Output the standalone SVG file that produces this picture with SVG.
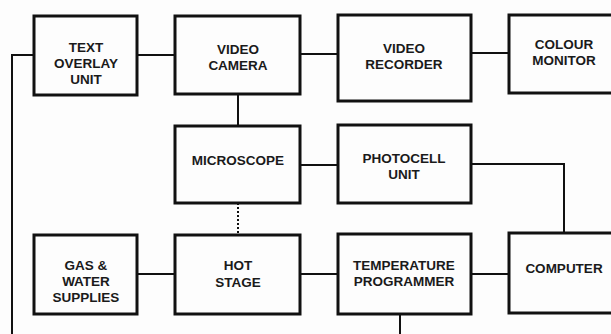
<svg xmlns="http://www.w3.org/2000/svg" width="611" height="334" viewBox="0 0 611 334">
<style>
.box{fill:#fdfdfd;stroke:#111;stroke-width:3}
.ln{fill:none;stroke:#111;stroke-width:2}
.dot{fill:none;stroke:#111;stroke-width:2;stroke-dasharray:2 2}
text{font-family:"Liberation Sans",Arial,sans-serif;font-weight:bold;font-size:13.5px;fill:#1a1a1a;text-anchor:middle}
</style>
<rect width="611" height="334" fill="#fdfdfd"/>
<g id="connectors">
<path class="ln" d="M137 55H175"/>
<path class="ln" d="M300 54H338"/>
<path class="ln" d="M471 53H509"/>
<path class="ln" d="M238 94V126"/>
<path class="ln" d="M300 165H338"/>
<path class="ln" d="M471 164H564V233"/>
<path class="dot" d="M238 203V235"/>
<path class="ln" d="M137 274H175"/>
<path class="ln" d="M300 274H338"/>
<path class="ln" d="M471 274H509"/>
<path class="ln" d="M400 314V334"/>
<path class="ln" d="M34 55H12V334"/>
</g>
<g id="text-overlay"><rect class="box" x="34" y="16" width="103" height="79"/><text x="86" y="52">TEXT</text><text x="86" y="68">OVERLAY</text><text x="86" y="84">UNIT</text></g>
<g id="video-camera"><rect class="box" x="175" y="16" width="125" height="78"/><text x="238" y="54">VIDEO</text><text x="238" y="70">CAMERA</text></g>
<g id="video-recorder"><rect class="box" x="338" y="15" width="133" height="86"/><text x="404" y="53">VIDEO</text><text x="404" y="69">RECORDER</text></g>
<g id="colour-monitor"><rect class="box" x="509" y="15" width="110" height="78"/><text x="564" y="49">COLOUR</text><text x="564" y="65">MONITOR</text></g>
<g id="microscope"><rect class="box" x="175" y="126" width="125" height="77"/><text x="238" y="165">MICROSCOPE</text></g>
<g id="photocell"><rect class="box" x="338" y="125" width="133" height="78"/><text x="404" y="163">PHOTOCELL</text><text x="404" y="179">UNIT</text></g>
<g id="gas-water"><rect class="box" x="34" y="235" width="103" height="79"/><text x="86" y="270">GAS &amp;</text><text x="86" y="286">WATER</text><text x="86" y="302">SUPPLIES</text></g>
<g id="hot-stage"><rect class="box" x="175" y="235" width="125" height="79"/><text x="238" y="270">HOT</text><text x="238" y="287">STAGE</text></g>
<g id="temperature-programmer"><rect class="box" x="338" y="234" width="133" height="80"/><text x="404" y="270">TEMPERATURE</text><text x="404" y="286">PROGRAMMER</text></g>
<g id="computer"><rect class="box" x="509" y="233" width="110" height="80"/><text x="564" y="273">COMPUTER</text></g>
</svg>
